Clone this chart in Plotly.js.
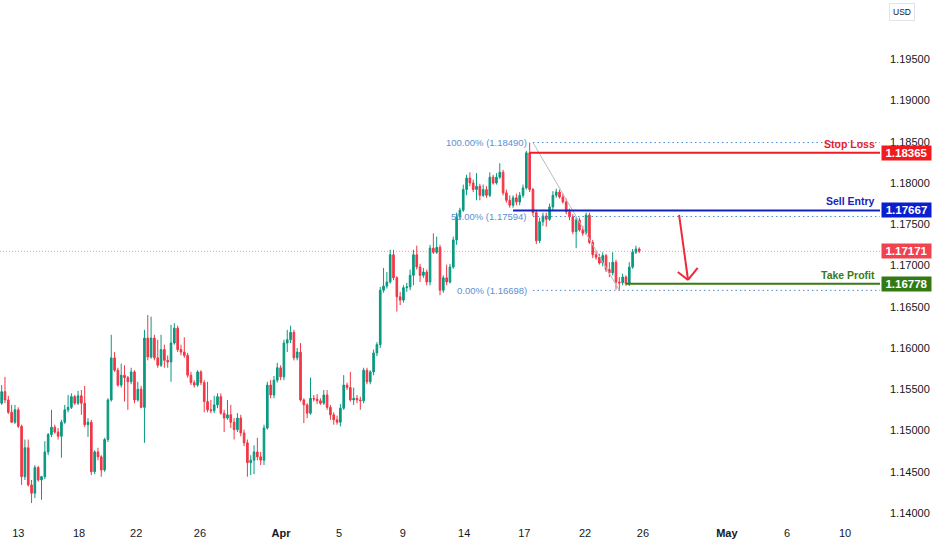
<!DOCTYPE html>
<html>
<head>
<meta charset="utf-8">
<script src="https://cdn.plot.ly/plotly-3.0.1.min.js"></script>
<style>html,body{margin:0;padding:0;background:#fff;}#chart{width:932px;height:550px;}</style>
</head>
<body>
<div id="chart"></div>
<script>
// ---- DATA ----
const openP = [1.1533,1.1547,1.1537,1.1522,1.1510,1.1525,1.1505,1.1444,1.1479,1.1434,1.1424,1.1455,1.1440,1.1444,1.1474,1.1495,1.1504,1.1498,1.1493,1.1510,
1.1525,1.1528,1.1541,1.1533,1.1542,1.1533,1.1507,1.1510,1.1450,1.1474,1.1468,1.1452,1.1489,1.1537,1.1588,1.1573,1.1555,1.1567,1.1564,1.1559,
1.1571,1.1537,1.1550,1.1528,1.1612,1.1589,1.1612,1.1588,1.1579,1.1598,1.1585,1.1583,1.1606,1.1624,1.1598,1.1595,1.1591,1.1567,1.1558,1.1555,
1.1571,1.1558,1.1535,1.1525,1.1524,1.1531,1.1541,1.1521,1.1515,1.1519,1.1510,1.1501,1.1515,1.1497,1.1485,1.1461,1.1464,1.1474,1.1468,1.1464,
1.1503,1.1555,1.1543,1.1561,1.1576,1.1565,1.1606,1.1610,1.1619,1.1588,1.1595,1.1537,1.1531,1.1521,1.1539,1.1538,1.1536,1.1533,1.1543,1.1528,
1.1519,1.1513,1.1510,1.1527,1.1555,1.1552,1.1537,1.1539,1.1537,1.1536,1.1573,1.1559,1.1571,1.1594,1.1604,1.1670,1.1675,1.1680,1.1713,1.1685,
1.1662,1.1658,1.1673,1.1674,1.1688,1.1713,1.1698,1.1688,1.1692,1.1680,1.1721,1.1716,1.1722,1.1670,1.1685,1.1680,1.1698,1.1731,1.1759,1.1767,
1.1792,1.1806,1.1800,1.1792,1.1796,1.1785,1.1792,1.1785,1.1807,1.1800,1.1807,1.1813,1.1788,1.1779,1.1773,1.1782,1.1777,1.1785,1.1794,1.18365,
1.1792,1.1764,1.1730,1.1753,1.1760,1.1756,1.1771,1.1785,1.1789,1.1783,1.1777,1.1765,1.1759,1.1741,1.1755,1.1743,1.1739,1.1761,1.1728,1.1713,
1.1710,1.1703,1.1712,1.1695,1.1691,1.1704,1.1680,1.1679,1.1686,1.16778,1.1698,1.1716,1.1720];
const highP = [1.1555,1.1565,1.1542,1.1531,1.1531,1.1528,1.1507,1.1489,1.1489,1.1440,1.1458,1.1457,1.1445,1.1487,1.1497,1.1525,1.1507,1.1503,1.1513,1.1531,
1.1543,1.1545,1.1543,1.1548,1.1549,1.1554,1.1515,1.1513,1.1476,1.1479,1.1470,1.1491,1.1539,1.1616,1.1595,1.1576,1.1581,1.1579,1.1566,1.1576,
1.1573,1.1559,1.1554,1.1622,1.1640,1.1638,1.1616,1.1610,1.1616,1.1604,1.1591,1.1628,1.1630,1.1627,1.1604,1.1613,1.1594,1.1571,1.1561,1.1573,
1.1573,1.1561,1.1559,1.1537,1.1542,1.1545,1.1545,1.1525,1.1537,1.1531,1.1515,1.1521,1.1519,1.1501,1.1489,1.1470,1.1482,1.1491,1.1474,1.1507,
1.1559,1.1561,1.1566,1.1582,1.1579,1.1610,1.1622,1.1627,1.1622,1.1600,1.1606,1.1539,1.1533,1.1564,1.1543,1.1544,1.1539,1.1549,1.1549,1.1531,
1.1522,1.1518,1.1532,1.1567,1.1558,1.1571,1.1552,1.1543,1.1541,1.1576,1.1576,1.1573,1.1598,1.1607,1.1674,1.1697,1.1692,1.1719,1.1719,1.1687,
1.1668,1.1676,1.1679,1.1695,1.1719,1.1724,1.1702,1.1697,1.1695,1.1725,1.1739,1.1735,1.1725,1.1688,1.1701,1.1702,1.1735,1.1764,1.1770,1.1798,
1.1810,1.1813,1.1804,1.1812,1.1799,1.1798,1.1796,1.1813,1.1810,1.1812,1.1824,1.1816,1.1792,1.1785,1.1785,1.1787,1.1789,1.1798,1.1839,1.1849,
1.1794,1.1766,1.1758,1.1764,1.1764,1.1775,1.1790,1.1793,1.1792,1.1787,1.1781,1.1769,1.1762,1.1759,1.1758,1.1748,1.1764,1.1764,1.1731,1.1718,
1.1714,1.1716,1.1714,1.1704,1.1716,1.1707,1.1686,1.1690,1.1688,1.1704,1.1720,1.1724,1.1722];
const lowP = [1.1531,1.1533,1.1520,1.1509,1.1508,1.1503,1.1434,1.1440,1.1432,1.1412,1.1418,1.1438,1.1416,1.1441,1.1470,1.1492,1.1496,1.1489,1.1467,1.1508,
1.1522,1.1526,1.1531,1.1531,1.1519,1.1504,1.1492,1.1446,1.1447,1.1464,1.1444,1.1450,1.1486,1.1535,1.1571,1.1553,1.1552,1.1535,1.1525,1.1556,
1.1533,1.1535,1.1527,1.1485,1.1585,1.1587,1.1585,1.1576,1.1577,1.1576,1.1576,1.1559,1.1604,1.1595,1.1591,1.1588,1.1564,1.1555,1.1552,1.1553,
1.1555,1.1522,1.1522,1.1521,1.1521,1.1527,1.1519,1.1498,1.1513,1.1503,1.1489,1.1498,1.1493,1.1481,1.1444,1.1446,1.1447,1.1464,1.1458,1.1458,
1.1501,1.1539,1.1539,1.1558,1.1561,1.1561,1.1595,1.1606,1.1585,1.1585,1.1535,1.1509,1.1515,1.1519,1.1535,1.1532,1.1531,1.1531,1.1525,1.1513,
1.1507,1.1507,1.1505,1.1525,1.1549,1.1535,1.1531,1.1533,1.1525,1.1533,1.1556,1.1556,1.1567,1.1590,1.1600,1.1667,1.1672,1.1678,1.1682,1.1644,
1.1652,1.1655,1.1668,1.1670,1.1676,1.1695,1.1680,1.1685,1.1676,1.1676,1.1714,1.1714,1.1664,1.1667,1.1676,1.1678,1.1696,1.1725,1.1755,1.1765,
1.1785,1.1796,1.1789,1.1779,1.1779,1.1783,1.1782,1.1783,1.1798,1.1798,1.1805,1.1785,1.1776,1.1770,1.1770,1.1773,1.1773,1.1782,1.1792,1.1789,
1.1760,1.1726,1.1727,1.1748,1.1747,1.1754,1.1767,1.1782,1.1781,1.1775,1.1762,1.1755,1.1738,1.1721,1.1741,1.1736,1.1737,1.1726,1.1709,1.1707,
1.1701,1.1699,1.1692,1.1686,1.1688,1.1671,1.16698,1.1676,1.1675,1.1675,1.1696,1.1714,1.1715];
const closeP = [1.1547,1.1537,1.1522,1.1510,1.1525,1.1505,1.1444,1.1479,1.1434,1.1424,1.1455,1.1440,1.1444,1.1474,1.1495,1.1504,1.1498,1.1493,1.1510,1.1525,
1.1528,1.1541,1.1533,1.1542,1.1533,1.1507,1.1510,1.1450,1.1474,1.1468,1.1452,1.1489,1.1537,1.1588,1.1573,1.1555,1.1567,1.1564,1.1559,1.1571,
1.1537,1.1550,1.1528,1.1612,1.1589,1.1612,1.1588,1.1579,1.1598,1.1585,1.1583,1.1606,1.1624,1.1598,1.1595,1.1591,1.1567,1.1558,1.1555,1.1571,
1.1558,1.1535,1.1525,1.1524,1.1531,1.1541,1.1521,1.1515,1.1519,1.1510,1.1501,1.1515,1.1497,1.1485,1.1461,1.1464,1.1474,1.1468,1.1464,1.1503,
1.1555,1.1543,1.1561,1.1576,1.1565,1.1606,1.1610,1.1619,1.1588,1.1595,1.1537,1.1531,1.1521,1.1539,1.1538,1.1536,1.1533,1.1543,1.1528,1.1519,
1.1513,1.1510,1.1527,1.1555,1.1552,1.1537,1.1539,1.1537,1.1536,1.1573,1.1559,1.1571,1.1594,1.1604,1.1670,1.1675,1.1680,1.1713,1.1685,1.1662,
1.1658,1.1673,1.1674,1.1688,1.1713,1.1698,1.1688,1.1692,1.1680,1.1721,1.1716,1.1722,1.1670,1.1685,1.1680,1.1698,1.1731,1.1759,1.1767,1.1792,
1.1806,1.1800,1.1792,1.1796,1.1785,1.1792,1.1785,1.1807,1.1800,1.1807,1.1813,1.1788,1.1779,1.1773,1.1782,1.1777,1.1785,1.1794,1.18365,1.1792,
1.1764,1.1730,1.1753,1.1760,1.1756,1.1771,1.1785,1.1789,1.1783,1.1777,1.1765,1.1759,1.1741,1.1755,1.1743,1.1739,1.1761,1.1728,1.1713,1.1710,
1.1703,1.1712,1.1695,1.1691,1.1704,1.1680,1.1679,1.1686,1.16778,1.1698,1.1716,1.1720,1.17171];

// x-axis labels (bar positions of the day starts)
const tickPos  = [5.0, 23.3, 40.5, 59.7, 84.1, 101.6, 120.8, 139.3, 157.4, 175.7, 193.1, 218.4, 236.5, 254.0];
const tickText = ['13','18','22','26','<b>Apr</b>','5','9','14','17','22','26','<b>May</b>','6','10'];
const yTicks   = [1.140,1.145,1.150,1.155,1.160,1.165,1.170,1.175,1.180,1.185,1.190,1.195];

// trade levels
const levelNames  = ['Stop Loss','Sell Entry','Take Profit'];
const levelPrices = [1.18365, 1.17667, 1.16778];
const levelStart  = [159, 154, 188];
const levelColors = ['#ee1c24','#1424b8','#3b7a12'];
const levelBoxes  = ['#f21a1f','#0a1fcf','#337a14'];

// fibonacci retracement
const fibLabels = ['100.00%','50.00%','0.00%'];
const fibPrices = [1.18490, 1.17594, 1.16698];
const fibStart  = 160, fibEndBar = 186;

const lastPrice = 1.17171;
// projected move arrow: [bar, price] points
const arrowStart = [204.0, 1.17612];
const arrowTip   = [206.7, 1.16824];
const arrowLeft  = [203.6, 1.16920];
const arrowRight = [209.6, 1.16970];

const xs = openP.map((_, i) => i);
const XR = [-0.5, 264.5];
const FONT = 'Liberation Sans, Arial, sans-serif';

const shapes = [];
const annotations = [];

// current price dotted line
shapes.push({type:'line', xref:'paper', x0:0, x1:1, yref:'y', y0:lastPrice, y1:lastPrice,
  line:{color:'rgba(242,54,69,0.5)', width:1, dash:'1px,2px'}, layer:'below'});

// fib lines + labels
fibPrices.forEach((p, k) => {
  shapes.push({type:'line', xref:'x', yref:'y', x0:fibStart, x1:XR[1], y0:p, y1:p,
    line:{color:'#4d88d2', width:1, dash:'1.5px,3px'}});
  annotations.push({xref:'x', yref:'y', x:fibStart - 1.3, y:p, xanchor:'right', yanchor:'middle',
    text: fibLabels[k] + ' (' + p.toFixed(5) + ')', showarrow:false,
    font:{family:FONT, size:9.5, color:'#5a8fd2'}});
});
shapes.push({type:'line', xref:'x', yref:'y', x0:fibStart, y0:fibPrices[0], x1:fibEndBar, y1:fibPrices[2],
  line:{color:'#b8bbc4', width:1}});

// trade levels
levelPrices.forEach((p, k) => {
  shapes.push({type:'line', xref:'x', yref:'y', x0:levelStart[k], x1:XR[1], y0:p, y1:p,
    line:{color:levelColors[k], width:2}});
  annotations.push({xref:'x', yref:'y', x:XR[1] - 1.0, y:p, xanchor:'right', yanchor:'bottom', yshift:1,
    text: '<b>' + levelNames[k] + '</b>', showarrow:false, font:{family:FONT, size:10.5, color:levelColors[k]}});
  annotations.push({xref:'paper', yref:'y', x:1, y:p, xanchor:'left', yanchor:'middle', xshift:1,
    text: '<b>' + p.toFixed(5) + '</b>', showarrow:false, bgcolor:levelBoxes[k], borderpad:1, width:47,
    font:{family:FONT, size:11.5, color:'#ffffff'}});
});
// last price box
annotations.push({xref:'paper', yref:'y', x:1, y:lastPrice, xanchor:'left', yanchor:'middle', xshift:1,
  text: '<b>' + lastPrice.toFixed(5) + '</b>', showarrow:false, bgcolor:'#f0434f', borderpad:1, width:47,
  font:{family:FONT, size:11.5, color:'#ffffff'}});
// currency box
annotations.push({xref:'paper', yref:'paper', x:1, y:1, xanchor:'left', yanchor:'top', xshift:9, yshift:-3,
  text:'USD', showarrow:false, bordercolor:'#e0e3eb', borderwidth:1, borderpad:3, bgcolor:'#ffffff',
  font:{family:FONT, size:8.5, color:'#131722'}});

// arrow
const arrowCol = '#ee2a3a';
[[arrowStart, arrowTip],[arrowLeft, arrowTip],[arrowRight, arrowTip]].forEach(seg => {
  shapes.push({type:'line', xref:'x', yref:'y', x0:seg[0][0], y0:seg[0][1], x1:seg[1][0], y1:seg[1][1],
    line:{color:arrowCol, width:2}});
});

const trace = {
  type:'candlestick', x:xs, open:openP, high:highP, low:lowP, close:closeP,
  increasing:{line:{color:'#089981', width:1}, fillcolor:'#089981'},
  decreasing:{line:{color:'#f23645', width:1}, fillcolor:'#f23645'},
  whiskerwidth:0, hoverinfo:'skip', showlegend:false
};

const layout = {
  width:932, height:550,
  margin:{l:0, r:52, t:0, b:25},
  paper_bgcolor:'#ffffff', plot_bgcolor:'#ffffff',
  showlegend:false,
  font:{family:FONT, size:11, color:'#131722'},
  xaxis:{range:XR, showgrid:false, zeroline:false, showline:false, ticks:'',
    tickmode:'array', tickvals:tickPos, ticktext:tickText,
    tickfont:{family:FONT, size:11, color:'#131722'},
    rangeslider:{visible:false}, fixedrange:true},
  yaxis:{range:[1.13854, 1.20218], side:'right', showgrid:false, zeroline:false, showline:false, ticks:'',
    tickmode:'array', tickvals:yTicks, tickformat:'.5f', ticklabelstandoff:9,
    tickfont:{family:FONT, size:11, color:'#131722'}, fixedrange:true},
  shapes:shapes, annotations:annotations
};

Plotly.newPlot('chart', [trace], layout, {displayModeBar:false, staticPlot:true});
</script>
</body>
</html>
